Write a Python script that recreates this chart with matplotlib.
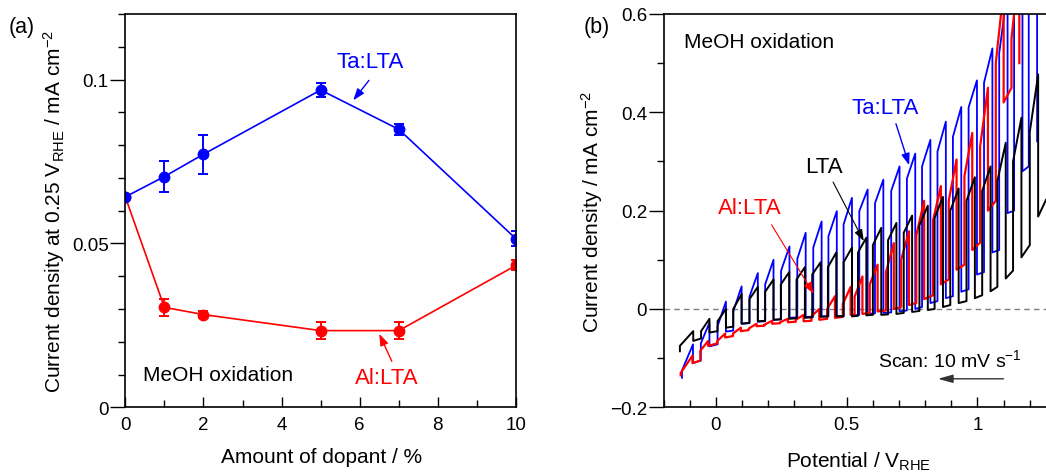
import matplotlib
matplotlib.use("Agg")
import matplotlib.pyplot as plt
from matplotlib.ticker import MultipleLocator
from matplotlib.transforms import ScaledTranslation

plt.rcParams['font.family'] = ['Liberation Sans', 'DejaVu Sans']
plt.rcParams['mathtext.fontset'] = 'custom'
plt.rcParams['mathtext.rm'] = 'Liberation Sans'
plt.rcParams['mathtext.it'] = 'Liberation Sans'

# (a) current density at 0.25 V_RHE vs dopant amount
dopant = [0, 1, 2, 5, 7, 10]
ta_j = [0.0642, 0.0704, 0.0772, 0.0968, 0.0848, 0.0514]
ta_err = [0.001, 0.0048, 0.006, 0.0022, 0.0017, 0.0023]
al_j = [0.0642, 0.0305, 0.0283, 0.0234, 0.0234, 0.0433]
al_err = [0.001, 0.0025, 0.0012, 0.0025, 0.0025, 0.0015]

# (b) chopped-light LSV, one entry per light pulse:
# light on / off potential, dark current before on, current after on, peak before off, dark after off
ta_on = [-0.130, -0.058, 0.006, 0.066, 0.128, 0.188, 0.249, 0.311, 0.372, 0.430, 0.488, 0.548,
         0.608, 0.670, 0.730, 0.788, 0.847, 0.906, 0.966, 1.025, 1.083, 1.140, 1.196]
ta_off = [-0.088, -0.025, 0.038, 0.098, 0.160, 0.220, 0.281, 0.343, 0.404, 0.462, 0.520, 0.580,
          0.640, 0.702, 0.762, 0.820, 0.879, 0.938, 0.998, 1.057, 1.115, 1.172, 1.228]
ta_dark_on = [-0.140, -0.105, -0.072, -0.044, -0.029, -0.025, -0.021, -0.017, -0.016, -0.015, -0.014, -0.012,
              -0.009, -0.007, -0.003, 0.004, 0.016, 0.026, 0.040, 0.075, 0.120, 0.200, 0.290]
ta_base = [-0.125, -0.070, -0.035, -0.005, 0.025, 0.050, 0.078, 0.102, 0.125, 0.148, 0.172, 0.199,
           0.215, 0.240, 0.265, 0.290, 0.320, 0.350, 0.410, 0.460, 0.520, 0.600, 0.660]
ta_peak = [-0.072, -0.028, 0.015, 0.046, 0.073, 0.100, 0.127, 0.155, 0.178, 0.199, 0.226, 0.243,
           0.263, 0.290, 0.316, 0.344, 0.381, 0.411, 0.465, 0.530, 0.650, 0.700, 0.750]
ta_dark = [-0.110, -0.076, -0.046, -0.030, -0.026, -0.022, -0.018, -0.016, -0.015, -0.015, -0.013, -0.010,
           -0.008, -0.005, 0.000, 0.012, 0.022, 0.035, 0.070, 0.115, 0.195, 0.280, 0.341]

lta_on = [-0.138, -0.057, 0.006, 0.066, 0.128, 0.188, 0.248, 0.308, 0.368, 0.428, 0.488, 0.543,
          0.600, 0.658, 0.718, 0.778, 0.836, 0.896, 0.958, 1.018, 1.076, 1.136, 1.200]
lta_off = [-0.087, -0.025, 0.038, 0.098, 0.160, 0.220, 0.280, 0.340, 0.400, 0.460, 0.520, 0.575,
           0.632, 0.690, 0.750, 0.810, 0.868, 0.928, 0.990, 1.050, 1.108, 1.168, 1.232]
lta_dark_on = [-0.086, -0.060, -0.045, -0.036, -0.028, -0.024, -0.021, -0.019, -0.017, -0.015, -0.015, -0.014,
               -0.012, -0.011, -0.008, -0.004, 0.000, 0.008, 0.016, 0.028, 0.045, 0.078, 0.130]
lta_base = [-0.075, -0.045, -0.025, 0.000, 0.020, 0.035, 0.050, 0.060, 0.070, 0.085, 0.095, 0.115,
            0.130, 0.140, 0.155, 0.170, 0.185, 0.200, 0.220, 0.240, 0.260, 0.300, 0.360]
lta_peak = [-0.045, -0.020, 0.000, 0.030, 0.045, 0.060, 0.075, 0.085, 0.095, 0.115, 0.125, 0.145,
            0.165, 0.175, 0.190, 0.210, 0.228, 0.245, 0.268, 0.290, 0.338, 0.389, 0.477]
lta_dark = [-0.065, -0.048, -0.038, -0.030, -0.025, -0.022, -0.020, -0.018, -0.016, -0.015, -0.015, -0.013,
            -0.012, -0.010, -0.006, -0.002, 0.004, 0.012, 0.022, 0.036, 0.062, 0.105, 0.188]
lta_tail = (1.262, 0.222)

al_on = [-0.135, -0.060, 0.005, 0.065, 0.125, 0.185, 0.245, 0.305, 0.365, 0.425, 0.485, 0.530,
         0.588, 0.650, 0.708, 0.766, 0.830, 0.890, 0.950, 1.010, 1.070, 1.130]
al_off = [-0.090, -0.030, 0.035, 0.095, 0.155, 0.215, 0.275, 0.335, 0.395, 0.455, 0.515, 0.560,
          0.618, 0.680, 0.738, 0.796, 0.860, 0.920, 0.980, 1.040, 1.100, 1.160]
al_dark_on = [-0.135, -0.105, -0.070, -0.055, -0.043, -0.034, -0.029, -0.026, -0.024, -0.020, -0.016, -0.011,
              -0.008, -0.003, 0.004, 0.012, 0.028, 0.060, 0.090, 0.135, 0.220, 0.450]
al_base = [-0.130, -0.085, -0.065, -0.050, -0.040, -0.032, -0.027, -0.022, -0.015, 0.000, 0.010, 0.025,
           0.050, 0.075, 0.100, 0.150, 0.180, 0.220, 0.270, 0.330, 0.500, 0.550]
al_peak = [-0.095, -0.065, -0.050, -0.038, -0.030, -0.024, -0.020, -0.012, 0.000, 0.026, 0.045, 0.066,
           0.090, 0.134, 0.158, 0.220, 0.250, 0.304, 0.358, 0.450, 0.650, 0.700]
al_dark = [-0.110, -0.075, -0.058, -0.045, -0.035, -0.030, -0.027, -0.025, -0.022, -0.018, -0.012, -0.010,
           -0.005, 0.000, 0.008, 0.020, 0.050, 0.080, 0.120, 0.200, 0.420, 0.500]


def chop_path(x_on, x_off, dark_on, base, peak, dark):
    xs, ys = [], []
    for i in range(len(x_on)):
        xs += [x_on[i], x_on[i], x_off[i], x_off[i]]
        ys += [dark_on[i], base[i], peak[i], dark[i]]
    return xs, ys


fig = plt.figure(figsize=(10.46, 4.77), dpi=100)
ax1 = fig.add_axes([0.1198, 0.144, 0.3735, 0.8246])
ax2 = fig.add_axes([0.6345, 0.144, 0.3705, 0.8246])

arrow = '-|>,head_length=0.7,head_width=0.25'

# ---- panel (a)
hl = ScaledTranslation(-1.2 / 72, 1.2 / 72, fig.dpi_scale_trans)
for y, err, c, light in [(al_j, al_err, 'red', '#ffaaaa'), (ta_j, ta_err, 'blue', '#aaaaff')]:
    ax1.errorbar(dopant, y, yerr=err, color=c, lw=1.2, marker='o', ms=7.5,
                 capsize=3.5, elinewidth=1.4, capthick=1.4)
    ax1.plot(dopant, y, 'o', color=light, ms=2.5, ls='none', transform=ax1.transData + hl)

ax1.set_xlim(0, 10)
ax1.set_ylim(0, 0.12)
ax1.xaxis.set_major_locator(MultipleLocator(2))
ax1.xaxis.set_minor_locator(MultipleLocator(1))
ax1.yaxis.set_minor_locator(MultipleLocator(0.01))
ax1.set_yticks([0, 0.05, 0.1])
ax1.set_yticklabels(['0', '0.05', '0.1'])
ax1.set_xlabel('Amount of dopant / %', fontsize=15)
ax1.set_ylabel('Current density at 0.25 V$_{\\mathrm{RHE}}$ / mA cm$^{-2}$', fontsize=15)
ax1.xaxis.set_label_coords(0.503, -0.1)
ax1.yaxis.set_label_coords(-0.149, 0.5)

ax1.text(6.26, 0.1056, 'Ta:LTA', color='blue', fontsize=16, ha='center', va='center')
ax1.annotate('', xy=(5.79, 0.093), xytext=(6.28, 0.1004),
             arrowprops=dict(arrowstyle=arrow, color='blue', lw=1))
ax1.text(6.68, 0.009, 'Al:LTA', color='red', fontsize=16, ha='center', va='center')
ax1.annotate('', xy=(6.47, 0.0232), xytext=(6.85, 0.0133),
             arrowprops=dict(arrowstyle=arrow, color='red', lw=1))
ax1.text(0.46, 0.0100, 'MeOH oxidation', fontsize=15, ha='left', va='center')

# ---- panel (b)
ax2.axhline(0, color='#808080', ls='--', lw=1, dashes=(4, 3))
xs, ys = chop_path(ta_on, ta_off, ta_dark_on, ta_base, ta_peak, ta_dark)
ax2.plot(xs, ys, color='blue', lw=1.3)
xs, ys = chop_path(al_on, al_off, al_dark_on, al_base, al_peak, al_dark)
ax2.plot(xs, ys, color='red', lw=1.6)
xs, ys = chop_path(lta_on, lta_off, lta_dark_on, lta_base, lta_peak, lta_dark)
ax2.plot(xs + [lta_tail[0]], ys + [lta_tail[1]], color='black', lw=1.4)

ax2.set_xlim(-0.2, 1.282)
ax2.set_ylim(-0.2, 0.6)
ax2.xaxis.set_minor_locator(MultipleLocator(0.1))
ax2.yaxis.set_minor_locator(MultipleLocator(0.1))
ax2.set_xticks([0, 0.5, 1])
ax2.set_xticklabels(['0', '0.5', '1'])
ax2.set_yticks([-0.2, 0, 0.2, 0.4, 0.6])
ax2.set_yticklabels(['\u22120.2', '0', '0.2', '0.4', '0.6'])
ax2.set_xlabel('Potential / V$_{\\mathrm{RHE}}$', fontsize=15)
ax2.set_ylabel('Current density / mA cm$^{-2}$', fontsize=15)
ax2.xaxis.set_label_coords(0.502, -0.108)
ax2.yaxis.set_label_coords(-0.152, 0.5)

ax2.text(-0.122, 0.544, 'MeOH oxidation', fontsize=15, ha='left', va='center')
ax2.text(0.647, 0.409, 'Ta:LTA', color='blue', fontsize=16, ha='center', va='center')
ax2.annotate('', xy=(0.742, 0.287), xytext=(0.685, 0.382),
             arrowprops=dict(arrowstyle=arrow, color='blue', lw=1))
ax2.text(0.411, 0.290, 'LTA', color='black', fontsize=16, ha='center', va='center')
ax2.annotate('', xy=(0.570, 0.133), xytext=(0.443, 0.263),
             arrowprops=dict(arrowstyle=arrow, color='black', lw=0.8))
ax2.text(0.130, 0.206, 'Al:LTA', color='red', fontsize=16, ha='center', va='center')
ax2.annotate('', xy=(0.379, 0.026), xytext=(0.207, 0.176),
             arrowprops=dict(arrowstyle=arrow, color='red', lw=0.8))
ax2.text(0.621, -0.103, 'Scan: 10 mV s$^{-1}$', fontsize=14, ha='left', va='center')
ax2.annotate('', xy=(0.838, -0.142), xytext=(1.11, -0.142),
             arrowprops=dict(arrowstyle='-|>,head_length=0.9,head_width=0.25', color='#333333', lw=1))

for ax in (ax1, ax2):
    ax.tick_params(axis='x', which='both', direction='in', labelsize=13.5, pad=6)
    ax.tick_params(axis='x', which='major', length=7, width=1)
    ax.tick_params(axis='x', which='minor', length=5, width=1)
    ax.tick_params(axis='y', which='both', direction='out', labelsize=13.5, pad=1)
    ax.tick_params(axis='y', which='major', length=11, width=1)
    ax.tick_params(axis='y', which='minor', length=5, width=1)
    for s in ax.spines.values():
        s.set_linewidth(1.2)

fig.text(0.008, 0.943, '(a)', fontsize=15.5, ha='left', va='center')
fig.text(0.558, 0.943, '(b)', fontsize=15.5, ha='left', va='center')

fig.savefig('out.png', dpi=100)
